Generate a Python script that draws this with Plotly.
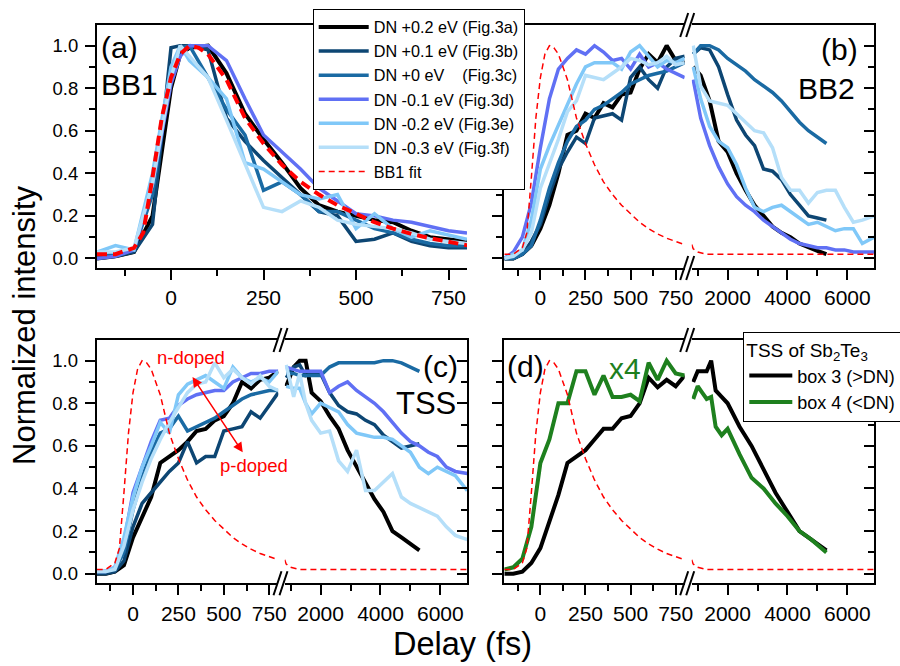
import plotly.graph_objects as go

W, H = 900, 666
FONT = "Liberation Sans, Arial, sans-serif"

# ---------------- data ----------------
series_names = ["DN +0.2 eV (Fig.3a)", "DN +0.1 eV (Fig.3b)",
                "DN +0 eV\u00a0\u00a0\u00a0\u00a0(Fig.3c)", "DN -0.1 eV (Fig.3d)",
                "DN -0.2 eV (Fig.3e)", "DN -0.3 eV (Fig.3f)"]
series_colors = ["#000000", "#0d4673", "#1a6aa3", "#6070f4", "#80c8f8", "#b5dff9"]
series_widths = [4, 3.5, 3.5, 3.5, 3.5, 3.5]

# BB1 fit (shared by all panels)
fit_t = [-200, -150, -100, -75, -50, -25, 0, 25, 50, 75, 100, 150, 200, 250, 300, 350, 400,
         450, 500, 550, 600, 650, 700, 750, 800, 850, 1000, 1300, 2000, 3000, 4000, 5000, 6000, 6900]
fit_v = [0.02, 0.02, 0.05, 0.12, 0.38, 0.66, 0.85, 0.96, 1.0, 0.99, 0.96, 0.84, 0.66, 0.54, 0.44,
         0.36, 0.30, 0.25, 0.21, 0.17, 0.14, 0.115, 0.095, 0.08, 0.065, 0.045, 0.03, 0.02, 0.02,
         0.02, 0.02, 0.02, 0.02, 0.02]

# panel (a) BB1
a_t = [-200, -150, -100, -50, 0, 25, 50, 100, 150, 200, 250, 300, 350, 400, 450, 500, 550, 600,
       650, 700, 750, 800]
a_p02 = [0.0, 0.01, 0.03, 0.20, 0.80, 0.96, 0.99, 1.0, 0.87, 0.68, 0.56, 0.45, 0.33, 0.25, 0.22,
         0.20, 0.18, 0.17, 0.13, 0.10, 0.09, 0.08]
a_p01 = [0.0, 0.01, 0.03, 0.16, 0.99, 1.0, 1.0, 0.98, 0.66, 0.55, 0.46, 0.38, 0.30, 0.22, 0.20,
         0.08, 0.09, 0.12, 0.08, 0.06, 0.05, 0.05]
a_p00 = [0.01, 0.02, 0.04, 0.30, 0.88, 0.99, 1.0, 0.85, 0.70, 0.58, 0.32, 0.36, 0.30, 0.22, 0.22,
         0.18, 0.14, 0.12, 0.09, 0.07, 0.06, 0.06]
a_m01 = [0.0, 0.01, 0.04, 0.35, 0.82, 0.95, 1.0, 1.0, 0.93, 0.75, 0.58, 0.50, 0.42, 0.33, 0.27,
         0.21, 0.20, 0.18, 0.17, 0.15, 0.13, 0.12]
a_m02 = [0.03, 0.06, 0.04, 0.40, 0.90, 1.0, 0.93, 0.85, 0.75, 0.45, 0.42, 0.36, 0.30, 0.28, 0.30,
         0.14, 0.21, 0.14, 0.10, 0.13, 0.11, 0.09]
a_m03 = [0.03, 0.03, 0.05, 0.35, 0.85, 1.0, 0.95, 0.85, 0.65, 0.45, 0.24, 0.22, 0.27, 0.24, 0.18,
         0.16, 0.15, 0.14, 0.12, 0.09, 0.08, 0.07]

# panel (b) BB2
b_t = [-200, -150, -100, -50, 0, 50, 100, 150, 200, 250, 300, 350, 400, 450, 500, 550, 600, 650,
       700, 750, 800,
       850, 1100, 1400, 1700, 2000, 2300, 2600, 2900, 3200, 3500, 3800, 4100, 4400, 4700, 5000,
       5300, 5600, 5900, 6200, 6500, 6900]
b_p02 = [0.0, 0.0, 0.02, 0.06, 0.14, 0.25, 0.40, 0.58, 0.60, 0.68, 0.66, 0.73, 0.71, 0.77, 0.78,
         0.89, 0.96, 0.92, 1.0, 0.93, 0.92,
         0.90, 0.86, 0.74, 0.55, 0.50, 0.40, 0.32, 0.25, 0.20, 0.15, 0.12, 0.10, 0.07, 0.05, 0.035,
         0.02, None, None, None, None, None]
b_p01 = [0.0, 0.0, 0.02, 0.08, 0.16, 0.30, 0.42, 0.50, 0.57, 0.54, 0.66, 0.67, 0.68, 0.65, 0.85,
         0.90, 0.84, 0.80, 0.90, 0.94, 0.95,
         0.96, 0.99, 0.98, 0.90, 0.77, 0.65, 0.58, 0.53, 0.42, 0.41, 0.37, 0.30, 0.25, 0.20, 0.19,
         0.18, None, None, None, None, None]
b_p00 = [0.0, 0.0, 0.02, 0.06, 0.18, 0.33, 0.45, 0.55, 0.62, 0.65, 0.70, 0.72, 0.75, 0.78, 0.82,
         0.84, 0.86, 0.87, 0.88, 0.90, 0.92,
         0.96, 1.0, 1.0, 0.98, 0.94, 0.91, 0.88, 0.84, 0.81, 0.78, 0.74, 0.69, 0.64, 0.60, 0.57,
         0.54, None, None, None, None, None]
b_m01 = [0.0, 0.03, 0.10, 0.26, 0.52, 0.75, 0.89, 0.94, 0.98, 0.96, 1.0, 0.97, 0.93, 0.94, 0.89,
         0.96, 0.90, 0.92, 0.89, 0.87, 0.85,
         0.84, 0.66, 0.53, 0.43, 0.35, 0.29, 0.25, 0.22, 0.18, 0.15, 0.12, 0.09, 0.07, 0.06, 0.05,
         0.05, 0.04, 0.04, 0.03, 0.03, 0.03]
b_m02 = [0.0, 0.02, 0.04, 0.18, 0.42, 0.53, 0.63, 0.72, 0.82, 0.90, 0.92, 0.92, 0.92, 0.89, 0.97,
         1.0, 0.95, 0.90, 0.93, 0.92, 0.94,
         0.90, 0.75, 0.62, 0.55, 0.52, 0.44, 0.33, 0.24, 0.22, 0.24, 0.25, 0.22, 0.19, 0.16, 0.17,
         0.15, 0.13, 0.14, 0.14, 0.07, 0.10]
b_m03 = [0.0, 0.01, 0.04, 0.12, 0.33, 0.44, 0.56, 0.69, 0.74, 0.86, 0.85, 0.84, 0.87, 0.90, 0.94,
         0.93, 0.91, 0.92, 0.95, 0.91, 0.92,
         1.0, 0.81, 0.74, 0.73, 0.72, 0.68, 0.64, 0.60, 0.59, 0.52, 0.38, 0.32, 0.32, 0.26, 0.31,
         0.32, 0.32, 0.24, 0.17, 0.18, 0.20]

# panel (c) TSS
c_t = [-200, -150, -100, -50, 0, 50, 100, 150, 200, 250, 300, 350, 400, 450, 500, 550, 600, 650,
       700, 750, 800,
       850, 1100, 1300, 1500, 1700, 2000, 2300, 2600, 2900, 3200, 3500, 3800, 4100, 4400, 4700,
       5000, 5300, 5600, 5900, 6200, 6500, 6900]
c_p02 = [0.0, 0.0, 0.01, 0.04, 0.17, 0.27, 0.36, 0.52, 0.55, 0.58, 0.62, 0.67, 0.68, 0.72, 0.74,
         0.80, 0.90, 0.87, 0.91, 0.92, 0.95,
         0.88, 0.97, 1.0, 1.0, 0.85, 0.81, 0.74, 0.68, 0.58, 0.50, 0.42, 0.35, 0.29, 0.20, 0.17,
         0.14, 0.11, None, None, None, None, None]
c_p01 = [0.0, 0.0, 0.01, 0.06, 0.22, 0.33, 0.38, 0.43, 0.48, 0.52, 0.62, 0.52, 0.55, 0.55, 0.67,
         0.68, 0.69, 0.76, 0.73, 0.79, 0.85,
         0.92, 0.97, 0.98, 0.93, 0.94, 0.94, 0.85, 0.79, 0.76, 0.75, 0.72, 0.70, 0.65, 0.62, 0.59,
         0.60, 0.61, None, None, None, None, None]
c_p00 = [0.01, 0.01, 0.02, 0.10, 0.30, 0.45, 0.57, 0.66, 0.68, 0.74, 0.67, 0.69, 0.71, 0.73, 0.76,
         0.79, 0.82, 0.84, 0.85, 0.86, 0.86,
         0.94, 0.94, 0.93, 0.93, 0.93, 0.93, 0.97, 0.99, 0.99, 0.99, 0.99, 0.99, 1.0, 1.0, 0.99,
         0.97, 0.95, None, None, None, None, None]
c_m01 = [0.01, 0.01, 0.03, 0.15, 0.38, 0.50, 0.62, 0.72, 0.73, 0.79, 0.82, 0.84, 0.85, 0.86, 0.86,
         0.90, 0.92, 0.94, 0.94, 0.95, 0.95,
         0.97, 0.96, 0.95, 0.95, 0.95, 0.95, 0.85, 0.88, 0.90, 0.86, 0.83, 0.80, 0.76, 0.71, 0.66,
         0.62, 0.60, 0.57, 0.55, 0.50, 0.48, 0.47]
c_m02 = [0.01, 0.01, 0.03, 0.17, 0.36, 0.50, 0.60, 0.71, 0.66, 0.84, 0.89, 0.91, 0.93, 0.90, 0.87,
         0.97, 0.92, 0.90, 0.92, 0.90, 0.95,
         0.88, 0.87, 0.87, 0.80, 0.75, 0.80, 0.78, 0.76, 0.70, 0.66, 0.65, 0.64, 0.64, 0.63, 0.60,
         0.57, 0.50, 0.47, 0.50, 0.48, 0.46, 0.39]
c_m03 = [0.01, 0.01, 0.02, 0.13, 0.30, 0.43, 0.54, 0.63, 0.71, 0.78, 0.85, 0.89, 0.90, 0.99, 0.92,
         0.96, 0.92, 0.89, 0.93, 0.88, 0.86,
         0.98, 0.83, 0.94, 0.80, 0.72, 0.66, 0.67, 0.53, 0.48, 0.58, 0.39, 0.39, 0.43, 0.47, 0.36,
         0.33, 0.31, 0.29, 0.27, 0.22, 0.18, 0.16]

# panel (d) TSS of Sb2Te3
d_t = [-200, -150, -100, -50, 0, 50, 100, 150, 200, 250, 300, 350, 400, 450, 500, 550, 600, 650,
       700, 750, 800,
       850, 1000, 1150, 1300, 1450, 1600, 1800, 2000, 2400, 2800, 3200, 3600, 4000, 4400, 4800, 5300]
d_box3 = [0.0, 0.0, 0.01, 0.05, 0.12, 0.24, 0.37, 0.52, 0.55, 0.58, 0.63, 0.68, 0.68, 0.73, 0.74,
          0.80, 0.92, 0.875, 0.91, 0.88, 0.93,
          0.90, 0.95, 0.95, 0.95, 1.0, 0.86, 0.83, 0.80, 0.69, 0.60, 0.49, 0.38, 0.29, 0.20, 0.16, 0.11]
d_box4 = [0.02, 0.03, 0.07, 0.22, 0.52, 0.63, 0.80, 0.80, 0.95, 0.95, 0.84, 0.93, 0.83, 0.83, 0.84,
          0.81, 0.99, 0.91, 1.0, 0.94, 0.93,
          0.82, 0.88, 0.85, 0.82, 0.83, 0.69, 0.65, 0.68, 0.56, 0.45, 0.40, 0.33, 0.27, 0.20, 0.16, 0.10]

x_ticks_early = [0, 250, 500, 750]
x_ticks_late = [2000, 4000, 6000]
y_ticks = [0.0, 0.2, 0.4, 0.6, 0.8, 1.0]

# ---------------- layout geometry (pixels) ----------------
YR = [-0.045, 1.097]
XL = [-200, 800]
XR = [800, 6900]
BREAK = 800


def px(p):
    return p / W


def py(p):
    return 1 - p / H


TOP_ROW = [py(268), py(25)]
BOT_ROW = [py(583.3), py(340)]

fig = go.Figure()


def add_line(x, y, xa, ya, color, width, dash=None, name=None, show=False,
             legend="legend", rank=1000):
    fig.add_trace(go.Scatter(x=x, y=y, xaxis=xa, yaxis=ya, mode="lines",
                             line=dict(color=color, width=width, dash=dash),
                             name=name, showlegend=show, legend=legend,
                             legendrank=rank, hoverinfo="skip"))


def split(t, v, incl=False):
    left = [(a, b) for a, b in zip(t, v) if b is not None and a <= BREAK]
    right = [(a, b) for a, b in zip(t, v) if b is not None and (a >= BREAK if incl else a > BREAK)]
    return ([p[0] for p in left], [p[1] for p in left]), ([p[0] for p in right], [p[1] for p in right])


TICK = dict(ticklen=10, tickwidth=2, tickcolor="black")
MTICK = dict(ticklen=6, tickwidth=2, tickcolor="black")
TFONT = dict(family=FONT, size=21, color="black")
YFONT = dict(family=FONT, size=18.5, color="black")


def x_main(dom, anchor, rng, mdtick, vals):
    return dict(domain=dom, anchor=anchor, range=rng, showline=True, mirror=True,
                linecolor="black", linewidth=2, ticks="outside", **TICK,
                tickmode="array", tickvals=vals,
                minor=dict(ticks="outside", dtick=mdtick, tick0=0, **MTICK),
                showgrid=False, zeroline=False, tickfont=TFONT)


def x_top(over, anchor, rng, mdtick, vals):
    return dict(overlaying=over, anchor=anchor, side="top", range=rng, showline=False,
                ticks="inside", **TICK, tickmode="array", tickvals=vals,
                minor=dict(ticks="inside", dtick=mdtick, tick0=0, **MTICK),
                showticklabels=False, showgrid=False, zeroline=False)


def y_left(dom, anchor, labels):
    return dict(domain=dom, anchor=anchor, range=YR, showline=True, linecolor="black",
                linewidth=2, ticks="outside", **TICK, tickmode="array", tickvals=y_ticks,
                tickformat=".1f", ticklabelstandoff=3,
                minor=dict(ticks="outside", dtick=0.1, tick0=0, **MTICK),
                showticklabels=labels, showgrid=False, zeroline=False, tickfont=YFONT)


def y_right(dom, anchor, over=None):
    d = dict(anchor=anchor, side="right", range=YR, showline=True, linecolor="black",
             linewidth=2, ticks="inside", **TICK, tickmode="array", tickvals=y_ticks,
             minor=dict(ticks="inside", dtick=0.1, tick0=0, **MTICK),
             showticklabels=False, showgrid=False, zeroline=False)
    if over:
        d["overlaying"] = over
    else:
        d["domain"] = dom
    return d


lay = {}
# panel (a)
lay["xaxis"] = x_main([px(97), px(467)], "y", XL, 125, x_ticks_early)
lay["xaxis2"] = x_top("x", "y", XL, 125, x_ticks_early)
lay["yaxis"] = y_left(TOP_ROW, "x", True)
lay["yaxis2"] = y_right(TOP_ROW, "x", over="y")

panels = {
    "b": dict(n=(3, 4, 5, 6), xl=[504.3, 684.7], xr=[691.7, 874.3], row=TOP_ROW, labels=False),
    "c": dict(n=(7, 8, 9, 10), xl=[96.7, 278.3], xr=[284.7, 467.3], row=BOT_ROW, labels=True),
    "d": dict(n=(11, 12, 13, 14), xl=[504.3, 684.7], xr=[691.7, 874.3], row=BOT_ROW, labels=False),
}
for k, p in panels.items():
    a1, a2, a3, a4 = p["n"]
    lay[f"xaxis{a1}"] = x_main([px(p["xl"][0]), px(p["xl"][1])], f"y{a1}", XL, 125, x_ticks_early)
    lay[f"xaxis{a2}"] = x_main([px(p["xr"][0]), px(p["xr"][1])], f"y{a2}", XR, 1000, x_ticks_late)
    lay[f"xaxis{a3}"] = x_top(f"x{a1}", f"y{a1}", XL, 125, x_ticks_early)
    lay[f"xaxis{a4}"] = x_top(f"x{a2}", f"y{a2}", XR, 1000, x_ticks_late)
    lay[f"yaxis{a1}"] = y_left(p["row"], f"x{a1}", p["labels"])
    lay[f"yaxis{a2}"] = y_right(p["row"], f"x{a2}")

# ---------------- traces ----------------
a_vals = [a_p02, a_p01, a_p00, a_m01, a_m02, a_m03]
for i in range(6):
    add_line(a_t, a_vals[i], "x", "y", series_colors[i], series_widths[i])
add_line(fit_t, fit_v, "x", "y", "#ff0000", 4, dash="10px,6px")


def broken_panel(t, vals, n, legend_panel):
    a1, a2 = n[0], n[1]
    for i in range(len(vals)):
        (lx, ly), (rx, ry) = split(t, vals[i])
        add_line(lx, ly, f"x{a1}", f"y{a1}", series_colors[i], series_widths[i],
                 name=series_names[i], show=legend_panel, rank=i + 1)
        add_line(rx, ry, f"x{a2}", f"y{a2}", series_colors[i], series_widths[i])
    (lx, ly), (rx, ry) = split(fit_t, fit_v, incl=True)
    add_line(lx, ly, f"x{a1}", f"y{a1}", "#ff0000", 1.5, dash="6px,4px",
             name="BB1 fit", show=legend_panel, rank=10)
    add_line(rx, ry, f"x{a2}", f"y{a2}", "#ff0000", 1.5, dash="6px,4px")


broken_panel(b_t, [b_p02, b_p01, b_p00, b_m01, b_m02, b_m03], panels["b"]["n"], True)
broken_panel(c_t, [c_p02, c_p01, c_p00, c_m01, c_m02, c_m03], panels["c"]["n"], False)

# panel (d)
dn = panels["d"]["n"]
for vals, col, nm, r in [(d_box3, "#000000", "box 3 (>DN)", 1), (d_box4, "#1e801e", "box 4 (<DN)", 2)]:
    (lx, ly), (rx, ry) = split(d_t, vals)
    add_line(lx, ly, f"x{dn[0]}", f"y{dn[0]}", col, 4, name=nm, show=True, legend="legend2", rank=r)
    add_line(rx, ry, f"x{dn[1]}", f"y{dn[1]}", col, 4)
(lx, ly), (rx, ry) = split(fit_t, fit_v, incl=True)
add_line(lx, ly, f"x{dn[0]}", f"y{dn[0]}", "#ff0000", 1.5, dash="6px,4px")
add_line(rx, ry, f"x{dn[1]}", f"y{dn[1]}", "#ff0000", 1.5, dash="6px,4px")


# ---------------- annotations ----------------
def ann(text, x, y, size, color="black", xanchor="left", angle=0):
    return dict(text=text, x=px(x), y=py(y), xref="paper", yref="paper", showarrow=False,
                font=dict(family=FONT, size=size, color=color), xanchor=xanchor,
                yanchor="middle", textangle=angle)


annotations = [
    ann("(a)", 99, 47, 30), ann("BB1", 99, 85, 30),
    ann("(b)", 860, 50, 30, xanchor="right"), ann("BB2", 857, 88, 30, xanchor="right"),
    ann("(c)", 460, 366, 30, xanchor="right"), ann("TSS", 458, 403, 31, xanchor="right"),
    ann("(d)", 505, 366, 30), ann("x4", 607, 368, 30, color="#1e801e"),
    ann("n-doped", 191, 357, 18.5, color="#ff0000", xanchor="center"),
    ann("p-doped", 254, 465, 18.5, color="#ff0000", xanchor="center"),
    ann("Normalized intensity", 24, 325, 31, xanchor="center", angle=-90),
    ann("Delay (fs)", 462, 644, 32.5, xanchor="center"),
    dict(x=604, y=0.57, ax=322, ay=0.93, xref="x7", yref="y7", axref="x7", ayref="y7",
         text="", showarrow=True, arrowhead=2, arrowside="end+start", arrowsize=1.3,
         arrowwidth=1.5, arrowcolor="#ff0000"),
]

# break marks
shapes = []
for cx, yt, yb in [(688.2, 25, 268), (281.5, 340, 583.3), (688.2, 340, 583.3)]:
    for y0 in (yt, yb):
        for off in (-8, -2):
            shapes.append(dict(type="line", xref="paper", yref="paper",
                               x0=px(cx + off), y0=py(y0 + 12), x1=px(cx + off + 8), y1=py(y0 - 12),
                               line=dict(color="black", width=2)))

fig.update_layout(
    width=W, height=H,
    margin=dict(l=0, r=0, t=0, b=0, autoexpand=False),
    paper_bgcolor="white", plot_bgcolor="white",
    font=dict(family=FONT, color="black"),
    annotations=annotations, shapes=shapes,
    legend=dict(x=px(312.7), y=py(9), xanchor="left", yanchor="top", bgcolor="white",
                bordercolor="black", borderwidth=1, itemwidth=50,
                font=dict(family=FONT, size=16.2, color="black"), traceorder="normal"),
    legend2=dict(x=px(743.3), y=py(331.7), xanchor="left", yanchor="top", bgcolor="white",
                 bordercolor="black", borderwidth=1, itemwidth=43,
                 font=dict(family=FONT, size=18, color="black"),
                 title=dict(text="TSS of Sb<sub>2</sub>Te<sub>3</sub>",
                            font=dict(family=FONT, size=19, color="black"))),
    **lay,
)

fig.write_html("out.html", config={"displayModeBar": False},
               post_script="document.body.style.margin='0px';document.body.style.padding='0px';")
